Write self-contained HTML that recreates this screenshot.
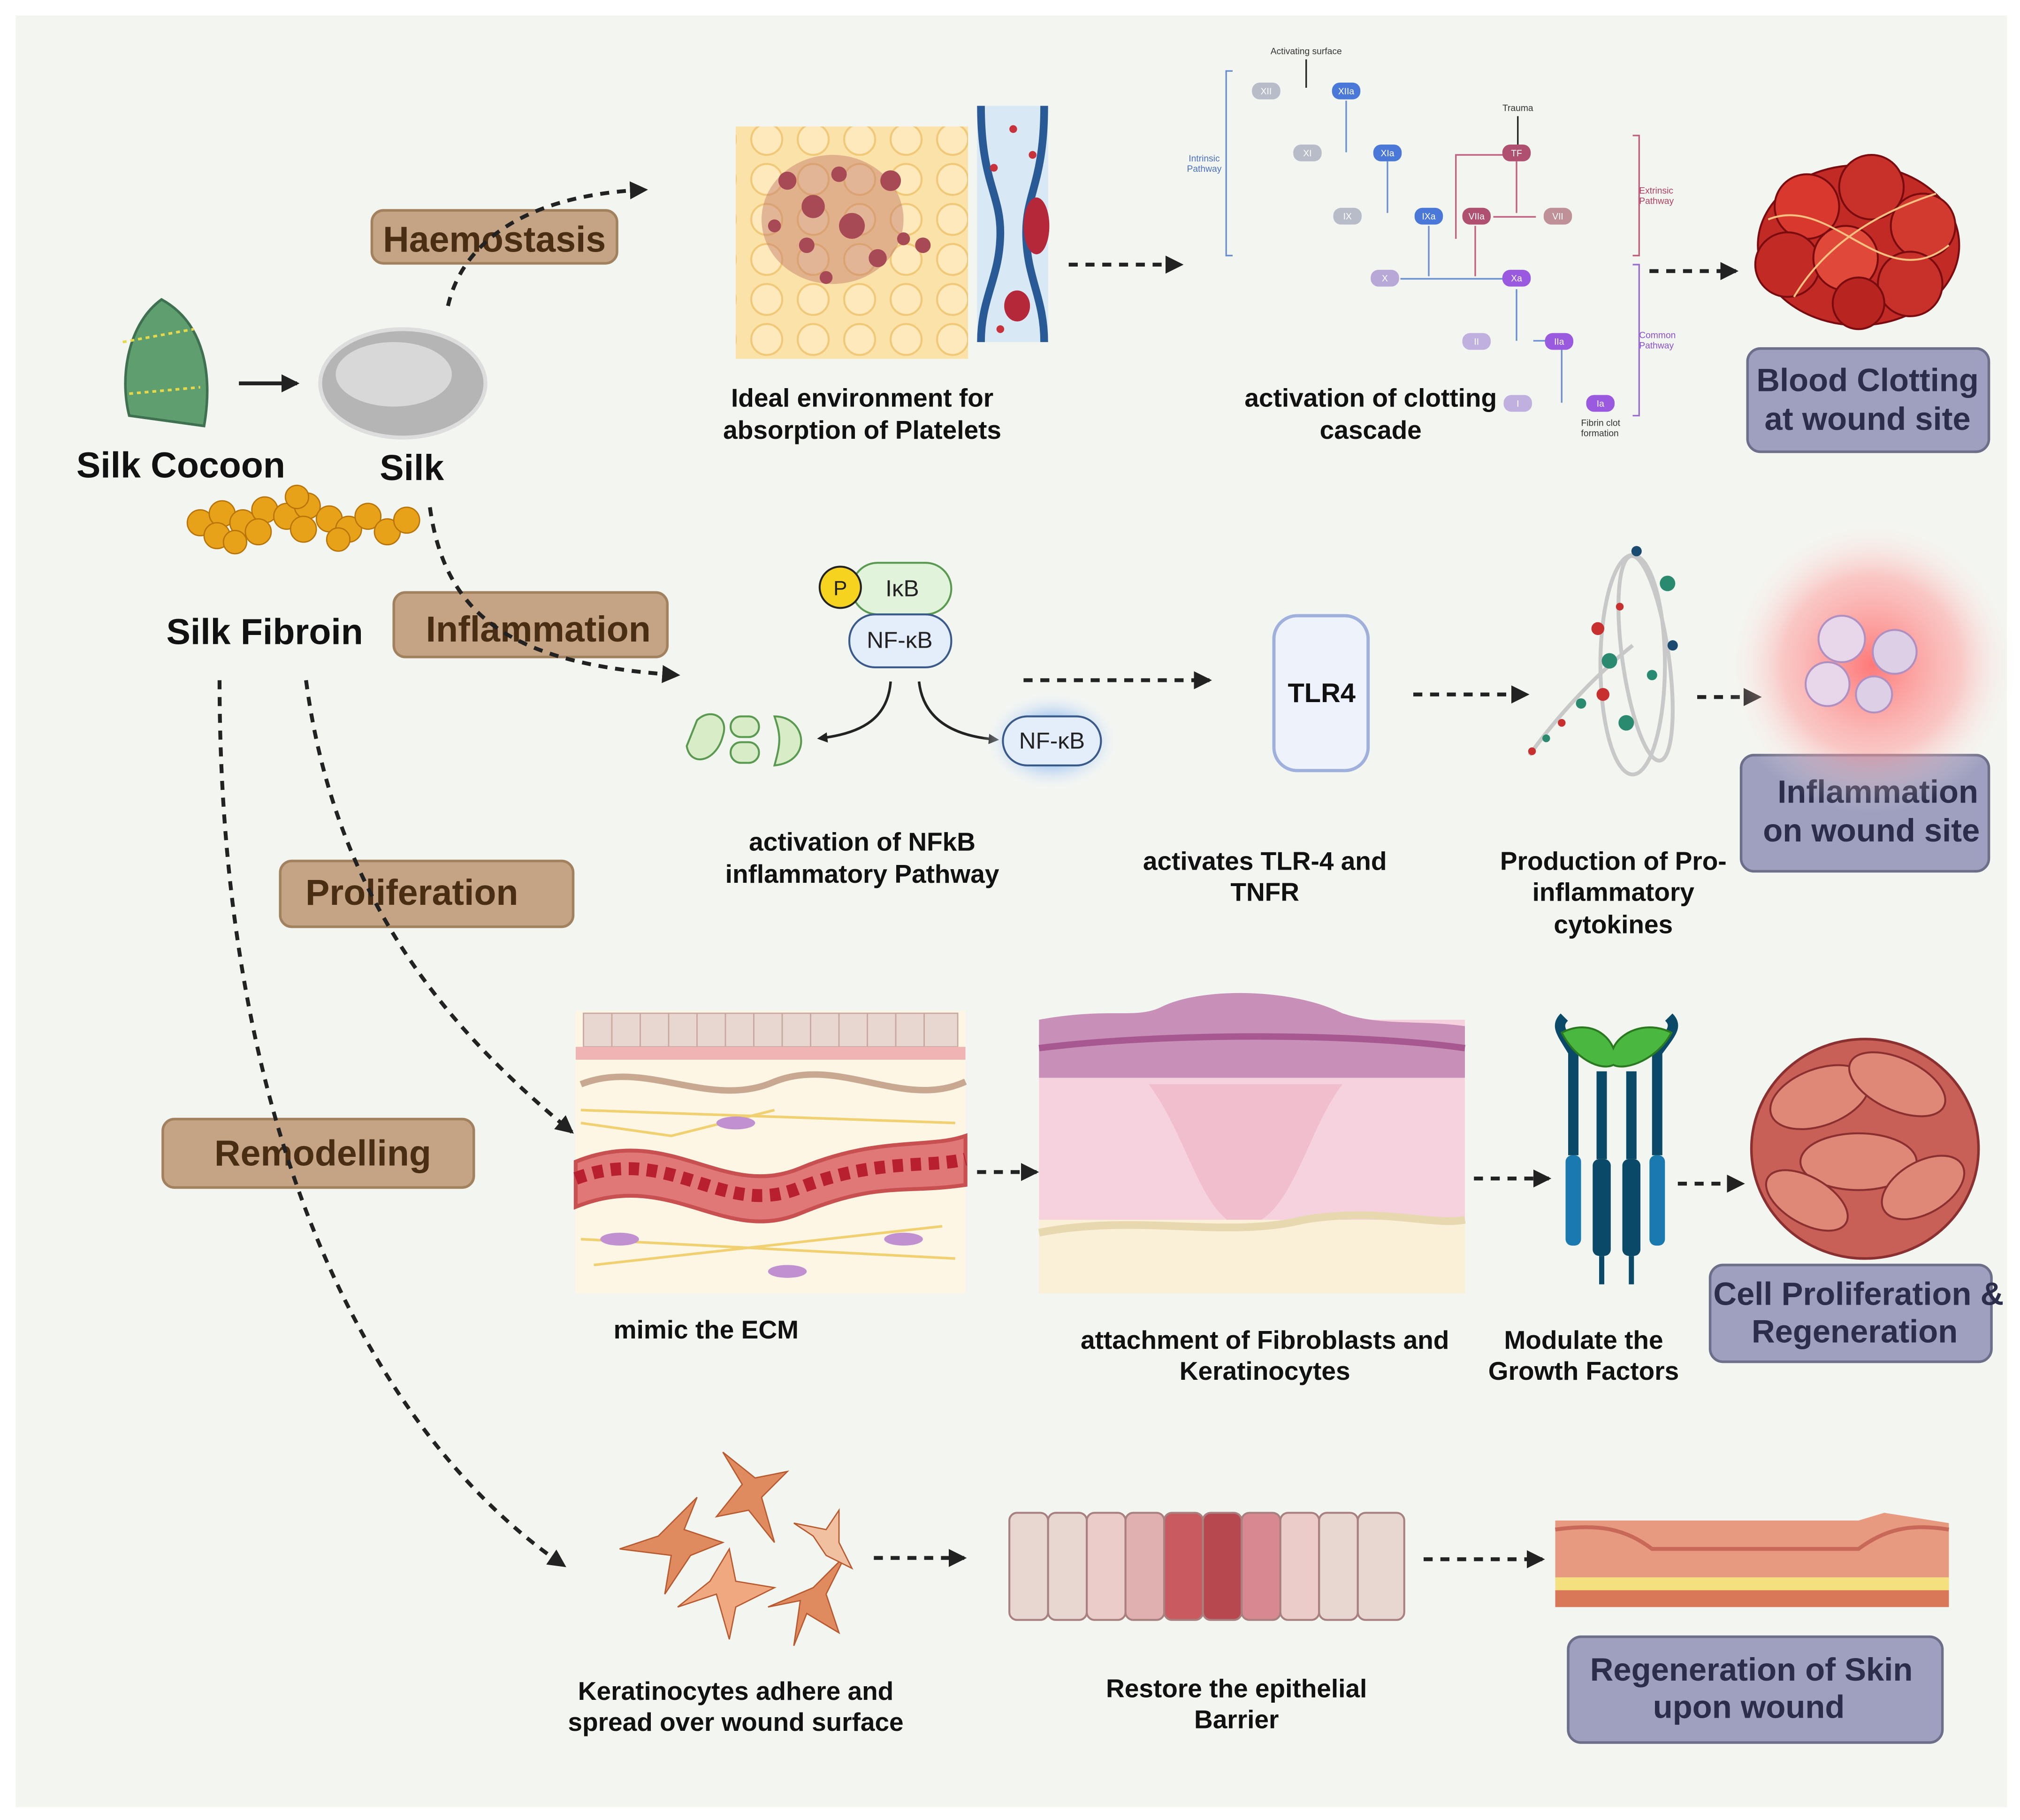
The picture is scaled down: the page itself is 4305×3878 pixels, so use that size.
<!DOCTYPE html>
<html><head><meta charset="utf-8"><style>
html,body{margin:0;padding:0;background:#fff}
svg{display:block}
text{font-family:"Liberation Sans",sans-serif}
</style></head><body>
<svg width="4305" height="3878" viewBox="0 0 1565 1410" xmlns="http://www.w3.org/2000/svg">
<defs>
<marker id="ah" markerWidth="8" markerHeight="8" refX="6" refY="4" orient="auto" markerUnits="userSpaceOnUse"><path d="M0,0 L8,4 L0,8 z" fill="#222"/></marker>
<marker id="ah2" markerWidth="14" markerHeight="14" refX="12" refY="7" orient="auto" markerUnits="userSpaceOnUse"><path d="M0,0 L14,7 L0,14 z" fill="#222"/></marker>
<radialGradient id="glow"><stop offset="0" stop-color="#ff6b6b" stop-opacity=".9"/><stop offset=".6" stop-color="#ff9a9a" stop-opacity=".5"/><stop offset="1" stop-color="#fff" stop-opacity="0"/></radialGradient>
<radialGradient id="glow2"><stop offset="0.5" stop-color="#a8c8f0" stop-opacity=".8"/><stop offset="1" stop-color="#fff" stop-opacity="0"/></radialGradient>
<pattern id="hex" width="36" height="31" patternUnits="userSpaceOnUse"><rect width="36" height="31" fill="#fbe2a8"/><circle cx="18" cy="15" r="12" fill="#fde9bb" stroke="#f0c878" stroke-width="1.5"/></pattern>
</defs>
<rect width="1565" height="1410" fill="#fff"/>
<rect x="12" y="12" width="1543" height="1388" fill="#f3f5f0"/>

<g font-weight="bold" fill="#4a2e14" font-size="28">
<rect x="288" y="163" width="190" height="41" rx="9" fill="#c4a484" stroke="#a2815e" stroke-width="2"/>
<text x="383" y="195" text-anchor="middle" fill="#4a2e14">Haemostasis</text>
<rect x="305" y="459" width="212" height="50" rx="9" fill="#c4a484" stroke="#a2815e" stroke-width="2"/>
<text x="417" y="497" text-anchor="middle" fill="#4a2e14">Inflammation</text>
<rect x="217" y="667" width="227" height="51" rx="9" fill="#c4a484" stroke="#a2815e" stroke-width="2"/>
<text x="319" y="701" text-anchor="middle" fill="#4a2e14">Proliferation</text>
<rect x="126" y="867" width="241" height="53" rx="9" fill="#c4a484" stroke="#a2815e" stroke-width="2"/>
<text x="250" y="903" text-anchor="middle" fill="#4a2e14">Remodelling</text>
</g>

<!-- cocoon -->
<path d="M125,232 C100,250 92,290 100,322 L158,330 C165,290 158,250 125,232z" fill="#5f9e6e" stroke="#3f7050" stroke-width="2"/>
<path d="M95,265 L150,255 M100,305 L155,300" stroke="#e6d84a" stroke-width="2" stroke-dasharray="3 3"/>
<line x1="185" y1="297" x2="230" y2="297" stroke="#222" stroke-width="3" marker-end="url(#ah2)"/>
<ellipse cx="312" cy="297" rx="64" ry="42" fill="#b5b5b5" stroke="#ddd" stroke-width="3"/>
<ellipse cx="305" cy="290" rx="45" ry="25" fill="#d8d8d8"/>
<g font-weight="bold" fill="#111" font-size="28">
<text x="140" y="370" text-anchor="middle">Silk Cocoon</text>
<text x="319" y="372" text-anchor="middle">Silk</text>
<text x="205" y="499" text-anchor="middle">Silk Fibroin</text>
</g>
<!-- fibroin beads -->
<g fill="#e8a21a" stroke="#b87406" stroke-width="1">
<circle cx="155" cy="405" r="10"/><circle cx="172" cy="398" r="10"/><circle cx="168" cy="415" r="10"/><circle cx="188" cy="405" r="10"/><circle cx="205" cy="395" r="10"/><circle cx="200" cy="412" r="10"/><circle cx="222" cy="400" r="10"/><circle cx="238" cy="392" r="10"/><circle cx="235" cy="410" r="10"/><circle cx="255" cy="402" r="10"/><circle cx="270" cy="410" r="10"/><circle cx="285" cy="400" r="10"/><circle cx="300" cy="412" r="10"/><circle cx="315" cy="403" r="10"/><circle cx="182" cy="420" r="9"/><circle cx="262" cy="418" r="9"/><circle cx="230" cy="385" r="9"/>
</g>

<!-- dotted curves -->
<g fill="none" stroke="#222" stroke-width="3" stroke-dasharray="7 6">
<path d="M347,237 C360,180 420,150 500,147" marker-end="url(#ah2)"/>
<path d="M333,393 C345,480 400,515 525,523" marker-end="url(#ah2)"/>
<path d="M237,527 C260,700 350,800 443,877" marker-end="url(#ah2)"/>
<path d="M170,527 C170,900 300,1120 437,1213" marker-end="url(#ah2)"/>
<line x1="828" y1="205" x2="915" y2="205" marker-end="url(#ah2)"/>
<line x1="1278" y1="210" x2="1345" y2="210" marker-end="url(#ah2)"/>
<line x1="793" y1="527" x2="937" y2="527" marker-end="url(#ah2)"/>
<line x1="1095" y1="538" x2="1183" y2="538" marker-end="url(#ah2)"/>
<line x1="1315" y1="540" x2="1363" y2="540" marker-end="url(#ah2)"/>
<line x1="757" y1="908" x2="803" y2="908" marker-end="url(#ah2)"/>
<line x1="1142" y1="913" x2="1200" y2="913" marker-end="url(#ah2)"/>
<line x1="1300" y1="917" x2="1350" y2="917" marker-end="url(#ah2)"/>
<line x1="677" y1="1207" x2="747" y2="1207" marker-end="url(#ah2)"/>
<line x1="1103" y1="1208" x2="1195" y2="1208" marker-end="url(#ah2)"/>
</g>

<!-- honeycomb & platelets -->
<rect x="570" y="98" width="180" height="180" fill="url(#hex)"/>
<ellipse cx="645" cy="170" rx="55" ry="50" fill="#c0756a" opacity=".45"/>
<g fill="#a84a55"><circle cx="610" cy="140" r="7"/><circle cx="630" cy="160" r="9"/><circle cx="660" cy="175" r="10"/><circle cx="690" cy="140" r="8"/><circle cx="625" cy="190" r="6"/><circle cx="680" cy="200" r="7"/><circle cx="700" cy="185" r="5"/><circle cx="650" cy="135" r="6"/><circle cx="600" cy="175" r="5"/><circle cx="715" cy="190" r="6"/><circle cx="640" cy="215" r="5"/></g>
<rect x="757" y="82" width="55" height="183" fill="#d8e8f5"/>
<path d="M760,82 C760,140 775,150 775,180 C775,215 760,230 760,265" stroke="#2a5a95" stroke-width="6" fill="none"/>
<path d="M809,82 C809,140 795,150 795,180 C795,215 809,230 809,265" stroke="#2a5a95" stroke-width="6" fill="none"/>
<ellipse cx="803" cy="175" rx="10" ry="22" fill="#b4283a"/><ellipse cx="788" cy="237" rx="10" ry="12" fill="#b4283a"/>
<g fill="#c8323a"><circle cx="785" cy="100" r="3"/><circle cx="770" cy="130" r="3"/><circle cx="775" cy="255" r="3"/><circle cx="800" cy="120" r="3"/></g>

<g font-weight="bold" fill="#111" font-size="20" text-anchor="middle">
<text x="668" y="315">Ideal environment for</text><text x="668" y="340">absorption of Platelets</text>
<text x="1062" y="315">activation of clotting</text><text x="1062" y="340">cascade</text>
<text x="668" y="659">activation of NFkB</text><text x="668" y="684">inflammatory Pathway</text>
<text x="980" y="674">activates TLR-4 and</text><text x="980" y="698">TNFR</text>
<text x="1250" y="674">Production of Pro-</text><text x="1250" y="698">inflammatory</text><text x="1250" y="723">cytokines</text>
<text x="547" y="1037">mimic the ECM</text>
<text x="980" y="1045">attachment of Fibroblasts and</text><text x="980" y="1069">Keratinocytes</text>
<text x="1227" y="1045">Modulate the</text><text x="1227" y="1069">Growth Factors</text>
<text x="570" y="1317">Keratinocytes adhere and</text><text x="570" y="1341">spread over wound surface</text>
<text x="958" y="1315">Restore the epithelial</text><text x="958" y="1339">Barrier</text>
</g>

<!-- clotting cascade -->
<g font-size="7" fill="#333">
<text x="1012" y="42" text-anchor="middle">Activating surface</text>
<text x="1176" y="86" text-anchor="middle">Trauma</text>
<text x="933" y="125" text-anchor="middle" fill="#4a6fc0">Intrinsic</text><text x="933" y="133" text-anchor="middle" fill="#4a6fc0">Pathway</text>
<text x="1270" y="150" fill="#b04060">Extrinsic</text><text x="1270" y="158" fill="#b04060">Pathway</text>
<text x="1270" y="262" fill="#8a50d0">Common</text><text x="1270" y="270" fill="#8a50d0">Pathway</text>
<text x="1225" y="330">Fibrin clot</text><text x="1225" y="338">formation</text>
</g>
<g fill="none" stroke-width="1.2">
<path d="M955,55 L950,55 L950,198 L955,198" stroke="#6a8fd0"/>
<path d="M1265,105 L1270,105 L1270,198 L1265,198" stroke="#c06080"/>
<path d="M1265,205 L1270,205 L1270,322 L1265,322" stroke="#9a70d0"/>
<path d="M1043,78 L1043,118 M1075,125 L1075,165 M1107,175 L1107,214 M1085,216 L1165,216 M1175,224 L1175,264 M1188,264 L1210,264 M1210,270 L1210,312" stroke="#6a8fd0"/>
<path d="M1175,125 L1175,165 M1190,168 L1157,168 M1143,175 L1143,214 M1165,120 L1128,120 L1128,185" stroke="#c06080"/>
<path d="M1012,46 L1012,68 M1176,90 L1176,112" stroke="#222"/>
</g>
<g font-size="7" text-anchor="middle" fill="#fff">
<rect x="970" y="64" width="22" height="13" rx="6" fill="#b8bcc8"/><text x="981" y="73">XII</text>
<rect x="1032" y="64" width="22" height="13" rx="6" fill="#4a78d8"/><text x="1043" y="73">XIIa</text>
<rect x="1002" y="112" width="22" height="13" rx="6" fill="#b8bcc8"/><text x="1013" y="121">XI</text>
<rect x="1064" y="112" width="22" height="13" rx="6" fill="#4a78d8"/><text x="1075" y="121">XIa</text>
<rect x="1033" y="161" width="22" height="13" rx="6" fill="#b8bcc8"/><text x="1044" y="170">IX</text>
<rect x="1096" y="161" width="22" height="13" rx="6" fill="#4a78d8"/><text x="1107" y="170">IXa</text>
<rect x="1062" y="209" width="22" height="13" rx="6" fill="#b8a8d8"/><text x="1073" y="218">X</text>
<rect x="1164" y="209" width="22" height="13" rx="6" fill="#9a5ae0"/><text x="1175" y="218">Xa</text>
<rect x="1164" y="112" width="22" height="13" rx="6" fill="#b05070"/><text x="1175" y="121">TF</text>
<rect x="1133" y="161" width="22" height="13" rx="6" fill="#b05070"/><text x="1144" y="170">VIIa</text>
<rect x="1196" y="161" width="22" height="13" rx="6" fill="#c09098"/><text x="1207" y="170">VII</text>
<rect x="1133" y="258" width="22" height="13" rx="6" fill="#c0b0e0"/><text x="1144" y="267">II</text>
<rect x="1197" y="258" width="22" height="13" rx="6" fill="#9a5ae0"/><text x="1208" y="267">IIa</text>
<rect x="1165" y="306" width="22" height="13" rx="6" fill="#c0b0e0"/><text x="1176" y="315">I</text>
<rect x="1229" y="306" width="22" height="13" rx="6" fill="#9a5ae0"/><text x="1240" y="315">Ia</text>
</g>

<!-- blood clot -->
<g stroke="#7a0c10" stroke-width="1.5">
<ellipse cx="1440" cy="190" rx="78" ry="62" fill="#c22a25"/>
<circle cx="1400" cy="160" r="25" fill="#d8382e"/><circle cx="1450" cy="145" r="25" fill="#c8302a"/><circle cx="1490" cy="175" r="25" fill="#d23a30"/><circle cx="1385" cy="205" r="25" fill="#c22a25"/><circle cx="1430" cy="200" r="25" fill="#e0483a"/><circle cx="1480" cy="220" r="25" fill="#c8302a"/><circle cx="1440" cy="235" r="20" fill="#b82520"/>
</g>
<path d="M1370,170 C1420,150 1460,230 1510,190 M1390,230 C1420,180 1470,160 1500,150" stroke="#f5c080" fill="none" stroke-width="1.5"/>

<g font-weight="bold" fill="#2c2d4a" font-size="25" text-anchor="middle">
<rect x="1354" y="270" width="187" height="80" rx="10" fill="#9fa0bf" stroke="#6d6e8a" stroke-width="2"/>
<text x="1447" y="303">Blood Clotting</text><text x="1447" y="333">at wound site</text>
<rect x="1349" y="585" width="192" height="90" rx="10" fill="#9fa0bf" stroke="#6d6e8a" stroke-width="2"/>
<text x="1455" y="622">Inflammation</text><text x="1450" y="652">on wound site</text>
<rect x="1325" y="980" width="218" height="75" rx="10" fill="#9fa0bf" stroke="#6d6e8a" stroke-width="2"/>
<text x="1440" y="1011">Cell Proliferation &amp;</text><text x="1437" y="1040">Regeneration</text>
<rect x="1215" y="1268" width="290" height="82" rx="10" fill="#9fa0bf" stroke="#6d6e8a" stroke-width="2"/>
<text x="1357" y="1302">Regeneration of Skin</text><text x="1355" y="1331">upon wound</text>
</g>

<!-- NF-kB -->
<rect x="660" y="436" width="77" height="40" rx="20" fill="#e2f3dc" stroke="#5a9a50" stroke-width="1.5"/>
<text x="699" y="462" font-size="18" text-anchor="middle" fill="#222">IκB</text>
<circle cx="651" cy="455" r="16" fill="#f5d31f" stroke="#222" stroke-width="1.5"/>
<text x="651" y="461" font-size="16" text-anchor="middle" fill="#222">P</text>
<rect x="658" y="476" width="79" height="41" rx="20" fill="#e4eefa" stroke="#3a5a8a" stroke-width="1.5"/>
<text x="697" y="502" font-size="18" text-anchor="middle" fill="#222">NF-κB</text>
<path d="M690,528 C688,555 670,568 635,572" stroke="#222" stroke-width="2" fill="none" marker-end="url(#ah)"/>
<path d="M712,528 C715,555 735,570 772,573" stroke="#222" stroke-width="2" fill="none" marker-end="url(#ah)"/>
<ellipse cx="815" cy="574" rx="55" ry="40" fill="url(#glow2)"/>
<rect x="777" y="555" width="76" height="38" rx="19" fill="#e4eefa" stroke="#3a5a8a" stroke-width="1.5"/>
<text x="815" y="580" font-size="18" text-anchor="middle" fill="#222">NF-κB</text>
<g fill="#d8ecc8" stroke="#5a9a50" stroke-width="1.5">
<path d="M540,558 C550,548 565,555 560,570 C555,590 535,595 532,578z"/><rect x="566" y="555" width="22" height="16" rx="8"/><rect x="566" y="575" width="22" height="16" rx="8"/><path d="M600,555 C625,555 630,590 600,593 C605,575 605,570 600,555z"/>
</g>

<rect x="987" y="477" width="73" height="120" rx="18" fill="#eef2fb" stroke="#9fb0dd" stroke-width="2.5"/>
<text x="1024" y="544" font-size="21" font-weight="bold" text-anchor="middle" fill="#111">TLR4</text>

<!-- cytokines -->
<g fill="none" stroke="#c8c8c8" stroke-width="3">
<ellipse cx="1265" cy="515" rx="25" ry="85"/><ellipse cx="1275" cy="510" rx="18" ry="80" transform="rotate(-8 1275 510)"/>
<path d="M1185,585 C1210,550 1240,520 1265,500"/>
</g>
<g><circle cx="1292" cy="452" r="6" fill="#2a8a70"/><circle cx="1238" cy="487" r="5" fill="#c83030"/><circle cx="1247" cy="512" r="6" fill="#2a8a70"/><circle cx="1260" cy="560" r="6" fill="#2a8a70"/><circle cx="1280" cy="523" r="4" fill="#2a8a70"/><circle cx="1296" cy="500" r="4" fill="#1a4a70"/><circle cx="1242" cy="538" r="5" fill="#c83030"/><circle cx="1225" cy="545" r="4" fill="#2a8a70"/><circle cx="1210" cy="560" r="3" fill="#c83030"/><circle cx="1198" cy="572" r="3" fill="#2a8a70"/><circle cx="1187" cy="582" r="3" fill="#c83030"/><circle cx="1268" cy="427" r="4" fill="#1a4a70"/><circle cx="1255" cy="470" r="3" fill="#c83030"/></g>

<!-- inflammation glow -->
<circle cx="1450" cy="515" r="115" fill="url(#glow)"/>
<g stroke="#b090c0" stroke-width="1.5"><circle cx="1427" cy="495" r="18" fill="#e8d6ea"/><circle cx="1468" cy="505" r="17" fill="#ddd0e6"/><circle cx="1416" cy="530" r="17" fill="#e8d6ea"/><circle cx="1452" cy="538" r="14" fill="#ddd0e6"/></g>

<!-- ECM -->
<rect x="446" y="783" width="302" height="219" fill="#fdf6e4"/>
<g fill="#e8d6d0" stroke="#c8a8a0"><rect x="452" y="785" width="22" height="26"/><rect x="474" y="785" width="22" height="26"/><rect x="496" y="785" width="22" height="26"/><rect x="518" y="785" width="22" height="26"/><rect x="540" y="785" width="22" height="26"/><rect x="562" y="785" width="22" height="26"/><rect x="584" y="785" width="22" height="26"/><rect x="606" y="785" width="22" height="26"/><rect x="628" y="785" width="22" height="26"/><rect x="650" y="785" width="22" height="26"/><rect x="672" y="785" width="22" height="26"/><rect x="694" y="785" width="22" height="26"/><rect x="716" y="785" width="26" height="26"/></g>
<rect x="446" y="811" width="302" height="10" fill="#f0b4b4"/>
<path d="M450,840 C500,820 550,860 600,838 C650,818 700,860 748,838" stroke="#c8a890" stroke-width="5" fill="none"/>
<path d="M446,900 C520,870 560,930 620,905 C680,880 720,890 748,880 L748,918 C700,925 680,915 620,940 C560,965 520,905 446,935z" fill="#e07878" stroke="#c85050" stroke-width="3"/>
<path d="M446,913 C520,885 560,945 620,920 C680,897 720,905 748,898" stroke="#b82030" stroke-width="10" stroke-dasharray="8 6" fill="none"/>
<g stroke="#f0d070" stroke-width="2" fill="none"><path d="M450,860 L740,870 M450,960 L740,975 M460,980 L730,950 M450,870 L520,880 L600,860"/></g>
<g fill="#c090d0"><ellipse cx="570" cy="870" rx="15" ry="5"/><ellipse cx="480" cy="960" rx="15" ry="5"/><ellipse cx="610" cy="985" rx="15" ry="5"/><ellipse cx="700" cy="960" rx="15" ry="5"/></g>

<!-- skin -->
<rect x="805" y="790" width="330" height="212" fill="#f5d2de"/>
<path d="M805,790 C860,780 880,790 900,780 C930,765 1000,765 1040,785 C1070,795 1100,790 1135,795 L1135,835 L805,835z" fill="#c890b8"/>
<path d="M805,812 C900,800 1050,800 1135,812" stroke="#a85890" stroke-width="5" fill="none"/>
<path d="M890,840 C920,880 930,940 960,950 C1000,950 1010,880 1040,840z" fill="#ecb0c0" opacity=".6"/>
<rect x="805" y="945" width="330" height="57" fill="#faf0d8"/>
<path d="M805,955 C880,940 950,960 1010,945 C1070,935 1110,950 1135,945" stroke="#e8d8b0" stroke-width="6" fill="none"/>

<!-- receptor -->
<g>
<rect x="1213" y="895" width="12" height="70" rx="5" fill="#1a7ab0"/><rect x="1234" y="898" width="14" height="75" rx="5" fill="#0a4a68"/><rect x="1257" y="898" width="14" height="75" rx="5" fill="#0a4a68"/><rect x="1278" y="895" width="12" height="70" rx="5" fill="#1a7ab0"/>
<path d="M1219,895 L1219,815 C1210,800 1205,795 1212,788 M1241,898 L1241,830 M1264,898 L1264,830 M1284,895 L1284,815 C1295,800 1300,795 1293,788" stroke="#0a4a68" stroke-width="8" fill="none"/>
<path d="M1210,800 C1230,790 1245,800 1250,812 C1255,800 1275,790 1295,800 C1285,820 1260,830 1250,825 C1240,830 1220,820 1210,800z" fill="#4ab840" stroke="#2a7820" stroke-width="1.5"/>
<path d="M1241,973 L1241,995 M1264,973 L1264,995" stroke="#0a4a68" stroke-width="4"/>
</g>

<!-- red cells -->
<ellipse cx="1445" cy="890" rx="88" ry="85" fill="#c86058" stroke="#8a3030" stroke-width="2"/>
<g fill="#e08878" stroke="#8a3030" stroke-width="1.5">
<ellipse cx="1410" cy="850" rx="40" ry="22" transform="rotate(-20 1410 850)"/><ellipse cx="1470" cy="840" rx="40" ry="20" transform="rotate(25 1470 840)"/><ellipse cx="1440" cy="900" rx="45" ry="22"/><ellipse cx="1400" cy="930" rx="35" ry="18" transform="rotate(30 1400 930)"/><ellipse cx="1490" cy="920" rx="35" ry="20" transform="rotate(-30 1490 920)"/>
</g>

<!-- keratinocytes -->
<g fill="#e08a60" stroke="#b85a30" stroke-width="1">
<path d="M510,1190 L480,1200 L520,1205 L515,1235 L535,1205 L560,1195 L530,1185 L540,1160z"/>
<path d="M575,1150 L560,1125 L585,1145 L610,1140 L590,1160 L600,1195 L580,1170 L555,1175z"/>
<path d="M620,1240 L595,1245 L630,1230 L655,1205 L640,1235 L650,1265 L625,1250 L615,1275z"/>
<path d="M555,1235 L525,1245 L550,1225 L565,1200 L570,1225 L600,1230 L570,1245 L565,1270z" fill="#f0a880"/>
<path d="M630,1190 L615,1180 L640,1185 L650,1170 L650,1195 L660,1215 L640,1205z" fill="#f0c0a0"/>
</g>

<!-- epithelial -->
<g stroke="#a88080" stroke-width="1.5">
<rect x="782" y="1172" width="30" height="83" rx="6" fill="#e8d6d0"/><rect x="812" y="1172" width="30" height="83" rx="6" fill="#e8d6d0"/><rect x="842" y="1172" width="30" height="83" rx="6" fill="#ecccc8"/><rect x="872" y="1172" width="30" height="83" rx="6" fill="#e0b0b0"/><rect x="902" y="1172" width="30" height="83" rx="6" fill="#c85a60"/><rect x="932" y="1172" width="30" height="83" rx="6" fill="#b84850"/><rect x="962" y="1172" width="30" height="83" rx="6" fill="#d88890"/><rect x="992" y="1172" width="30" height="83" rx="6" fill="#ecccc8"/><rect x="1022" y="1172" width="30" height="83" rx="6" fill="#e8d6d0"/><rect x="1052" y="1172" width="36" height="83" rx="6" fill="#e8d6d0"/>
</g>

<!-- healed skin -->
<path d="M1205,1178 L1440,1178 L1460,1172 L1510,1180 L1510,1245 L1205,1245z" fill="#e89a80"/>
<path d="M1205,1185 C1240,1180 1260,1185 1280,1200 L1440,1200 C1460,1185 1480,1180 1510,1185" stroke="#c86858" stroke-width="3" fill="none"/>
<rect x="1205" y="1222" width="305" height="10" fill="#f5e080"/>
<rect x="1205" y="1232" width="305" height="13" fill="#d87858"/>
</svg>
</body></html>
